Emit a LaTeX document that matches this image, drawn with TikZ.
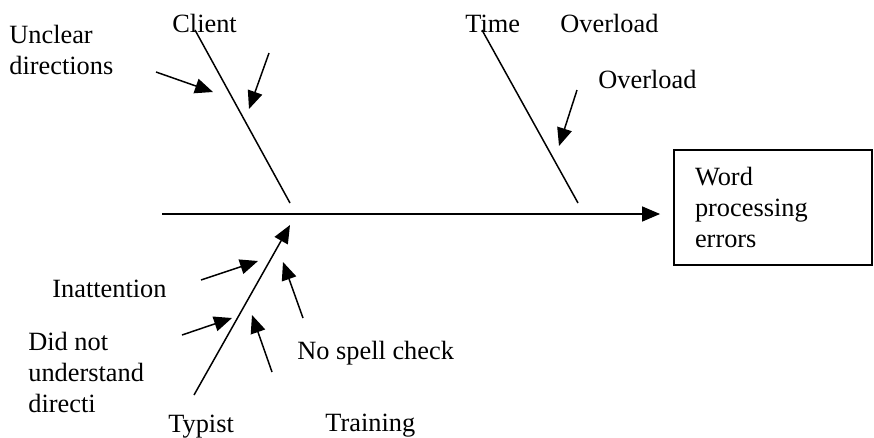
\documentclass[tikz,border=0pt]{standalone}
\usepackage{fontspec}
\setmainfont{Liberation Serif}
\usetikzlibrary{arrows.meta}

\begin{document}
\begin{tikzpicture}[x=0.02cm,y=-0.02cm,
    lbl/.style={font=\fontsize{15}{17.5}\selectfont,inner sep=0pt,align=left},
    bone/.style={line width=0.85pt},
    tip/.style={bone,-{Triangle[length=0.36cm,width=0.3cm]}}]
  \useasboundingbox (0,0) rectangle (874,437);

  % effect box and spine
  \node (effect) [lbl,draw,line width=1.1pt,minimum width=3.96cm,minimum height=2.3cm,
        inner xsep=0.42cm,text width=3.12cm] at (773,207.5) {Word\\processing\\errors};
  \coordinate (tail) at (162,214);
  \draw[tip,shorten >=0.26cm] (tail) -- (effect.west |- tail);

  % bones
  \coordinate (client) at (195,30);
  \coordinate (clientend) at (290,203);
  \coordinate (time) at (482,30);
  \coordinate (timeend) at (578,203);
  \coordinate (typist) at (194,395);
  \coordinate (typistend) at (290,225);
  \draw[bone] (client) -- (clientend);
  \draw[bone] (time) -- (timeend);
  \draw[tip] (typist) -- (typistend);

  % labels
  \node[lbl,anchor=base west] (clientlbl) at (172,32) {Client};
  \node[lbl,anchor=base west] (timelbl) at (465,32) {Time};
  \node[lbl,anchor=base west] (overload) at (560,32) {Overload};
  \node[lbl,anchor=base west] (overload2) at (598,88) {Overload};
  \node[lbl,anchor=north west] (unclear) at (9,25) {Unclear\\directions};
  \node[lbl,anchor=base west] (inatt) at (52,297) {Inattention};
  \node[lbl,anchor=north west] (didnot) at (28,332) {Did not\\understand\\directi};
  \node[lbl,anchor=base west] (typistlbl) at (168,432) {Typist};
  \node[lbl,anchor=base west] (spell) at (297,359) {No spell check};
  \node[lbl,anchor=base west] (training) at (325,431) {Training};

  % cause arrows
  \coordinate (a1) at (156,72);   \coordinate (a1e) at (213,92);
  \coordinate (a2) at (269,53);   \coordinate (a2e) at (249,109);
  \coordinate (a3) at (577,90);   \coordinate (a3e) at (559,146);
  \coordinate (a4) at (201,280);  \coordinate (a4e) at (258,261);
  \coordinate (a5) at (182,335);  \coordinate (a5e) at (232,318);
  \coordinate (a6) at (303,318);  \coordinate (a6e) at (283,262);
  \coordinate (a7) at (272,372);  \coordinate (a7e) at (252,315);
  \path[tip]
    (a1) edge (a1e)
    (a2) edge (a2e)
    (a3) edge (a3e)
    (a4) edge (a4e)
    (a5) edge (a5e)
    (a6) edge (a6e)
    (a7) edge (a7e);
\end{tikzpicture}
\end{document}
